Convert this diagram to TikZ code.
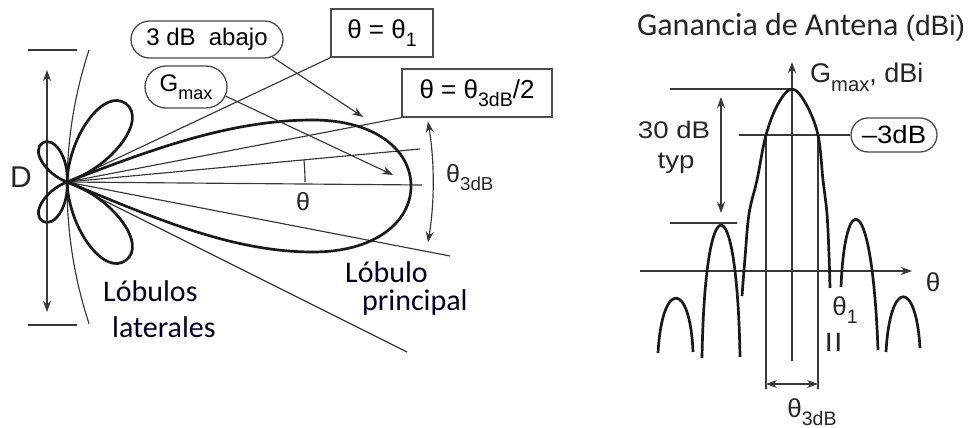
\documentclass[tikz,border=0pt]{standalone}
\usepackage{fontspec}
\setmainfont{Liberation Sans}
\newfontfamily\calib{Carlito}
\usetikzlibrary{arrows.meta,shapes.misc,calc}
\newcommand\sbs[1]{\raisebox{-0.32em}{\scalebox{0.75}{#1}}}
\newcommand\fs[1]{\fontsize{#1}{#1}\selectfont}
\begin{document}
\begin{tikzpicture}[x=1pt,y=-1pt,
  thin/.style={line width=1.15pt,draw=black!78},
  lobe/.style={line width=2.7pt,line join=round,draw=black!90},
  tipp/.style={-{Stealth[length=11pt,width=8pt]}},
  twotip/.style={{Stealth[length=11pt,width=8pt]}-{Stealth[length=11pt,width=8pt]}},
  lbl/.style={inner sep=0pt,text=black!85},
  boxl/.style={draw=black!70,line width=1.4pt,inner sep=0pt},
  pill/.style={rounded rectangle,draw=black!70,line width=1.3pt,inner sep=0pt},
  cal/.style={inner sep=0pt,font=\calib\fs{30},text=black!85!blue},
  wide/.style={xscale=1.15,transform shape}
]
\fill[white] (0,0) rectangle (969,428);
\useasboundingbox (0,0) rectangle (969,428);

% ---------------- left diagram ----------------
\coordinate (O) at (67,182);
% aperture arc
\coordinate (A1) at (89,50);
\draw[thin] (A1) arc[start angle=198.2,end angle=161.8,radius=438];
% D dimension
\coordinate (Dl1) at (28,50); \coordinate (Dr1) at (77,50);
\coordinate (Dl2) at (28,325); \coordinate (Dr2) at (77,325);
\draw[thin] (Dl1) -- (Dr1);
\draw[thin] (Dl2) -- (Dr2);
\coordinate (Dt) at (47,70); \coordinate (Db) at (47,312);
\draw[thin,twotip] (Dt) -- (Db);
\node[lbl,font=\fs{30}] (D) at (21,177) {D};

% labels
\node[boxl,minimum width=102pt,minimum height=48pt,font=\fs{26}] (b1) at (382,33) {θ = θ\sbs{1}};
\node[boxl,minimum width=150pt,minimum height=48pt,font=\fs{26}] (b2) at (477,93) {θ = θ\sbs{3dB}/2};
\node[pill,minimum width=152pt,minimum height=37pt,font=\fs{24}] (p3) at (207,39.5) {3 dB\hspace{0.55em}abajo};
\node[pill,minimum width=82pt,minimum height=42pt,font=\fs{24}] (pg) at (186,87) {G\sbs{max}};

% rays from origin
\coordinate (rth) at (420,149);
\coordinate (rax) at (422,185);
\coordinate (rm3) at (450,256);
\coordinate (rm1) at (407,352);
\draw[thin] (O) -- (b1.south west);
\draw[thin] (O) -- (b2.south west);
\draw[thin] (O) -- (rth);
\draw[thin] (O) -- (rax);
\draw[thin] (O) -- (rm3);
\draw[thin] (O) -- (rm1);

% main lobe
\draw[lobe] (O) .. controls (150,150) and (230,120) .. (313,120)
  .. controls (375,120) and (411,150) .. (411,186)
  .. controls (411,222) and (375,252) .. (313,252)
  .. controls (230,252) and (150,216) .. (O);
% side lobes
\foreach \ang/\L/\h in {53/98/27, -53/98/27, 122/46/14, -122/46/14}{
  \begin{scope}[shift={(O)},rotate=\ang]
    \draw[lobe] (0,0) .. controls ({0.4*\L},\h) and (\L,\h) .. (\L,0)
      .. controls (\L,-\h) and ({0.4*\L},-\h) .. (0,0);
  \end{scope}
}

% leaders
\coordinate (c3) at (363,117);
\coordinate (cg) at (393,175);
\draw[thin,tipp] (p3.-15) -- (c3);
\draw[thin,tipp] (pg.-13) -- (cg);

% theta arc
\draw[thin] ($(O)+(0:238)$) arc[start angle=0,end angle=-5.3,radius=238];
\node[lbl,font=\fs{25}] (th) at (303,202) {θ};
% theta 3dB arc
\draw[thin,twotip] ($(O)+(-9.5:366)$) arc[start angle=-9.5,end angle=9.5,radius=366];
\node[lbl,font=\fs{25},anchor=west] (t3) at (446,178) {θ\sbs{3dB}};

% texts
\node[cal,anchor=base west] (ll1) at (103,301) {Lóbulos};
\node[cal,anchor=base west] (ll2) at (112,337) {laterales};
\node[cal,anchor=base west] (lp1) at (345,282) {Lóbulo};
\node[cal,anchor=base west] (lp2) at (362,310) {principal};

% ---------------- right diagram ----------------
\node[anchor=base west,inner sep=0pt,text=black!85] (title) at (637,36)
  {\calib\fs{32}Ganancia de Antena \rmfamily\fs{28}(dBi)};

\coordinate (vb) at (792,361); \coordinate (vt) at (792,62);
\draw[thin,tipp] (vb) -- (vt);
\node[lbl,anchor=west,font=\fs{27}] (gm) at (810,77) {G\sbs{max}, dBi};
\coordinate (pk) at (792,89); \coordinate (pkl) at (670,89);
\draw[thin] (pkl) -- (pk);
\coordinate (a30t) at (721,97); \coordinate (a30b) at (721,213);
\draw[thin,twotip] (a30t) -- (a30b);
\node[lbl,font=\fs{24},wide] (n30) at (674,130) {30 dB};
\node[lbl,font=\fs{24},wide] (ntyp) at (676,163) {typ};
\coordinate (s1l) at (670,223); \coordinate (s1r) at (737,223);
\draw[thin] (s1l) -- (s1r);
\coordinate (m3l) at (739,135);
\node[pill,minimum width=86pt,minimum height=34pt,font=\fs{25}] (m3) at (894,135) {\scalebox{1.1}[1]{–3dB}};
\draw[thin] (m3l) -- (m3.west);
\coordinate (vl1) at (766,135); \coordinate (vl2) at (766,389);
\coordinate (vr1) at (818,135); \coordinate (vr2) at (818,389);
\draw[thin] (vl1) -- (vl2);
\draw[thin] (vr1) -- (vr2);
\coordinate (bl) at (766,384); \coordinate (br) at (818,384);
\draw[thin,twotip] (bl) -- (br);
\node[lbl,font=\fs{26}] (t3b) at (812,412) {θ\sbs{3dB}};
\coordinate (hl) at (640,271); \coordinate (hr) at (912,271);
\draw[thin,tipp] (hl) -- (hr);
\node[lbl,font=\fs{26}] (thr) at (933,282) {θ};
\node[lbl,font=\fs{26}] (th1) at (845,310) {θ\sbs{1}};
\node[lbl,font=\fs{38},rotate=90] (eq) at (837,342) {=};

% pattern curves
\draw[lobe] plot[smooth,tension=0.6] coordinates {(742,296) (745,258) (749,214) (757,180) (766,135) (778,104) (792,89) (806,104) (818,135) (823,180) (827,214) (829,255) (830,288)};
\draw[lobe] (702,358) .. controls (705,181) and (737,181) .. (740,357);
\draw[lobe] (658,353) .. controls (662,280) and (690,280) .. (693,352);
\draw[lobe] (841,287) .. controls (845,188) and (872,188) .. (878,350);
\draw[lobe] (886,352) .. controls (890,279) and (916,279) .. (920,348);
\end{tikzpicture}
\end{document}
